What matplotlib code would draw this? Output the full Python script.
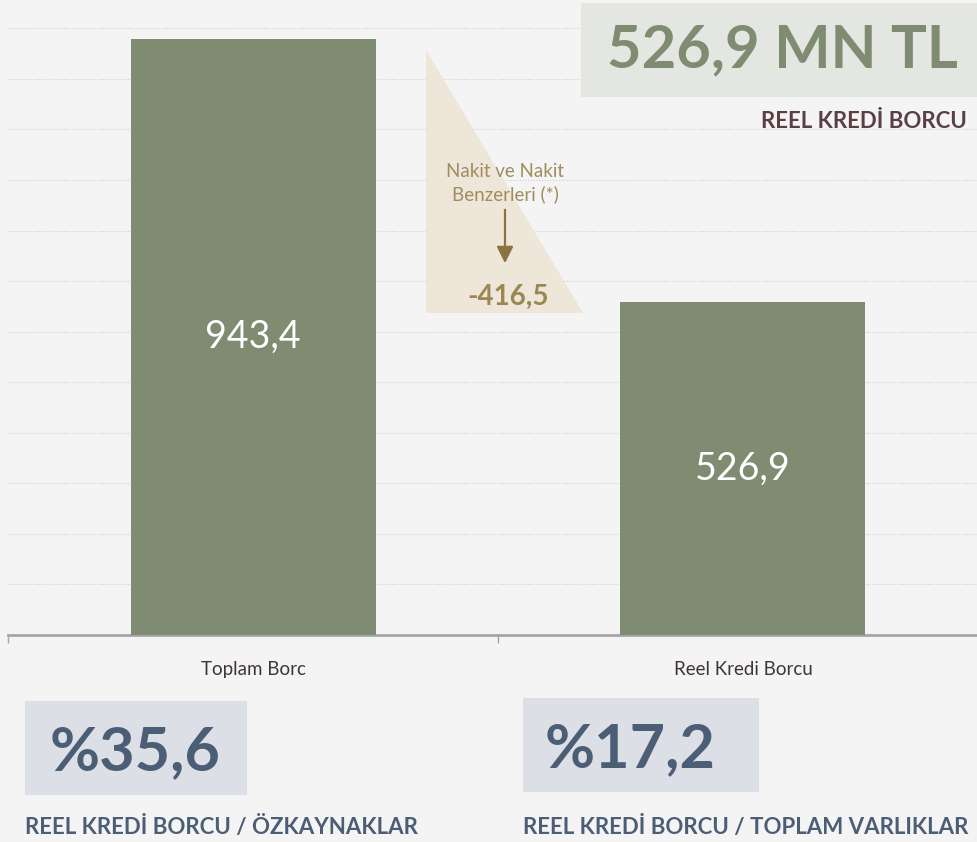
import numpy as np
import matplotlib.pyplot as plt
from matplotlib.patches import Polygon, Rectangle, FancyArrowPatch

# chart data
categories = ['Toplam Borc', 'Reel Kredi Borcu']
values = [943.4, 526.9]
value_labels = ['943,4', '526,9']
cash_label = '-416,5'
cash_title = 'Nakit ve Nakit\nBenzerleri (*)'
headline = '526,9 MN TL'
headline_title = 'REEL KREDİ BORCU'
ratio_values = ['%35,6', '%17,2']
ratio_titles = ['REEL KREDİ BORCU / ÖZKAYNAKLAR', 'REEL KREDİ BORCU / TOPLAM VARLIKLAR']

W, H = 977, 842
BG = '#f4f4f4'
BAR = '#7f8c72'
SAND = '#ede6d9'
GOLD = '#9c8654'
SLATE = '#4b5e75'

plt.rcParams['font.family'] = ['Lato', 'DejaVu Sans']

fig = plt.figure(figsize=(W / 100, H / 100), dpi=100, facecolor=BG)


def fx(px):
    return px / W


def fy(py):
    return 1 - py / H


# main bar axes (extends a bit past the right edge like the slide)
ax = fig.add_axes([fx(8), fy(635), 980 / W, 632 / H])
ax.set_facecolor(BG)
ax.set_xlim(-0.5, 1.5)
ax.set_ylim(0, 1000)

x = np.arange(len(categories))
bars = ax.bar(x, values, width=0.5, color=BAR, zorder=3)
for b, lab in zip(bars, value_labels):
    ax.text(b.get_x() + b.get_width() / 2, b.get_height() / 2, lab,
            ha='center', va='center', color='white', fontsize=27, zorder=4)

ax.set_yticks(np.arange(80, 1000, 80))
ax.yaxis.grid(True, linestyle=(0, (1, 1.5)), color='#cfcfcf', linewidth=0.8)
ax.tick_params(axis='y', length=0, labelleft=False)
for s in ['left', 'right', 'top']:
    ax.spines[s].set_visible(False)
ax.spines['bottom'].set_color('#a6a6a6')
ax.spines['bottom'].set_linewidth(2)

ax.set_xticks(x)
ax.set_xticklabels(categories, fontsize=13.5, color='#3f3535')
ax.tick_params(axis='x', which='major', length=0, pad=19)
ax.set_xticks([-0.5, 0.5, 1.5], minor=True)
ax.tick_params(axis='x', which='minor', length=6, width=1, color='#a6a6a6')

# cash triangle
tri = Polygon([[fx(426), fy(50)], [fx(426), fy(313)], [fx(583), fy(313)]],
              closed=True, transform=fig.transFigure, facecolor=SAND,
              edgecolor='none', zorder=5)
fig.patches.append(tri)
fig.text(fx(505), fy(183), cash_title, ha='center', va='center',
         fontsize=13.5, color='#a08c5e', linespacing=1.4, zorder=6)
arrow = FancyArrowPatch((fx(505), fy(207)), (fx(505), fy(266)),
                        transform=fig.transFigure,
                        arrowstyle='-|>,head_length=10,head_width=5',
                        mutation_scale=1, color='#8b7340', lw=1.6, zorder=7)
fig.patches.append(arrow)
fig.text(fx(508), fy(297), cash_label, ha='center', va='center',
         fontsize=20, fontweight='bold', color=GOLD, zorder=6)

# headline box top right
fig.patches.append(Rectangle((fx(581), fy(97)), fx(420), 94 / H,
                             transform=fig.transFigure, facecolor='#e4e6e1',
                             edgecolor='none', zorder=5))
fig.text(fx(782), fy(50), headline, ha='center', va='center',
         fontsize=43, fontweight='bold', color=BAR, zorder=6)
fig.text(fx(967), fy(122), headline_title, ha='right', va='center',
         fontsize=16, fontweight='bold', color='#5a3f45', zorder=6)

# ratio boxes
boxes = [(25, 701, 222, 94, 50), (523, 698, 236, 94, 545)]
for (bx, by, bw, bh, tx), val, title in zip(boxes, ratio_values, ratio_titles):
    fig.patches.append(Rectangle((fx(bx), fy(by + bh)), bw / W, bh / H,
                                 transform=fig.transFigure, facecolor='#dcdfe5',
                                 edgecolor='none', zorder=5))
    fig.text(fx(tx), fy(by + bh / 2 + 4), val, ha='left', va='center',
             fontsize=44, fontweight='bold', color=SLATE, zorder=6)
    fig.text(fx(bx), fy(827), title, ha='left', va='center',
             fontsize=16, fontweight='bold', color=SLATE, zorder=6)

fig.savefig('out.png', dpi=100, facecolor=BG)
